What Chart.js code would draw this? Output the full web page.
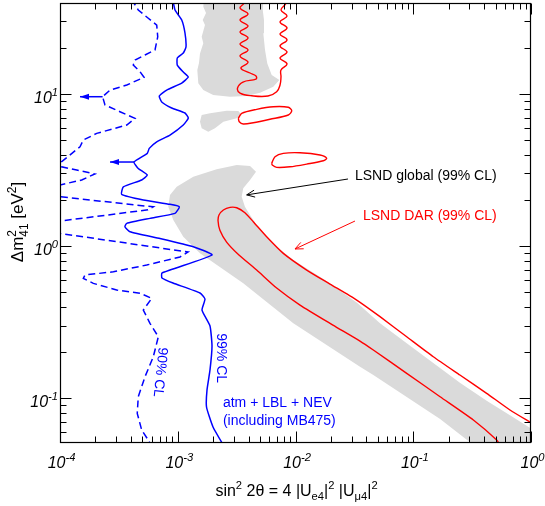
<!DOCTYPE html>
<html><head><meta charset="utf-8">
<script src="https://cdn.jsdelivr.net/npm/chart.js@4/dist/chart.umd.min.js"></script>
<style>html,body{margin:0;padding:0;background:#fff}#wrap{width:545px;height:506px}</style>
</head><body><div id="wrap"><canvas id="c" width="545" height="506"></canvas></div>
<script>
const FONT = '"Liberation Sans", Arial, Helvetica, sans-serif';

// ---- axis ranges and tick labels ----
const xRange = [1e-4, 1];
const yRange = [0.0506, 39.7];
const xTickValues = [1e-4, 1e-3, 1e-2, 1e-1, 1];
const xTickExps = ['-4', '-3', '-2', '-1', '0'];
const yTickValues = [0.1, 1, 10];
const yTickExps = ['-1', '0', '1'];

// ---- atm + LBL + NEV exclusion curves [sin^2 2theta, dm^2] ----
const atm99CL = [[9.06e-4,42],[9.48e-4,35.7],[1.081e-3,30.7],[1.152e-3,25.2],[1.175e-3,20.4],[1.114e-3,18.6],[9.91e-4,17.26],[9.91e-4,15.5],[1.114e-3,13.95],[1.229e-3,12.94],[1.081e-3,11.81],[8.06e-4,10.62],[6.97e-4,9.70],[7.31e-4,8.86],[8.88e-4,8.09],[1.152e-3,7.50],[1.229e-3,6.95],[1.114e-3,6.25],[8.59e-4,5.37],[6.63e-4,4.85],[5.73e-4,4.39],[5.51e-4,4.07],[4.25e-4,3.57],[4.62e-4,3.24],[5.51e-4,2.93],[4.94e-4,2.72],[3.45e-4,2.45],[3.34e-4,2.19],[5.10e-4,2.01],[8.59e-4,1.88],[1.031e-3,1.81],[9.48e-4,1.64],[5.81e-4,1.52],[3.69e-4,1.41],[3.56e-4,1.34],[3.93e-4,1.24],[7.07e-4,1.12],[1.355e-3,0.989],[1.954e-3,0.873],[7.35e-4,0.664],[7.35e-4,0.616],[9.11e-4,0.571],[1.545e-3,0.491],[1.703e-3,0.448],[1.607e-3,0.379],[1.879e-3,0.298],[1.954e-3,0.220],[1.879e-3,0.153],[1.772e-3,0.113],[1.755e-3,0.0873],[1.993e-3,0.0645],[2.52e-3,0.0469]];
const atm90CL = [[4.06e-4,42],[4.62e-4,35.7],[5.62e-4,31.5],[6.63e-4,28.4],[6.76e-4,23.8],[6.41e-4,19.5],[5.27e-4,18.06],[4.34e-4,16.74],[4.19e-4,15.5],[4.78e-4,14.02],[5.17e-4,12.88],[3.69e-4,11.46],[2.66e-4,10.62],[2.30e-4,9.60],[2.41e-4,8.47],[3.23e-4,7.65],[4.34e-4,6.92],[3.69e-4,6.25],[2.05e-4,5.51],[1.578e-4,4.98],[1.479e-4,4.50],[1.034e-4,3.59],[1.034e-4,3.32],[1.386e-4,3.16],[1.98e-4,2.98],[1.529e-4,2.72],[1.0e-4,2.52],[7.91e-5,2.30],[1.0e-4,2.11],[6.20e-4,1.81],[5.59e-4,1.73],[1.0e-4,1.46],[7.91e-5,1.33],[1.0e-4,1.21],[1.222e-3,0.913],[1.045e-3,0.847],[5.45e-4,0.750],[2.84e-4,0.677],[1.63e-4,0.645],[1.578e-4,0.613],[1.92e-4,0.568],[3.03e-4,0.514],[4.78e-4,0.489],[6.01e-4,0.453],[5.10e-4,0.379],[5.81e-4,0.310],[6.84e-4,0.253],[6.20e-4,0.187],[5.27e-4,0.138],[4.62e-4,0.102],[4.53e-4,0.0793],[4.94e-4,0.0616],[5.62e-4,0.0529],[6.04e-4,0.0476]];

// ---- LSND global 99% CL (gray regions) ----
const lsndGlobalTop = [[1.671e-3,43.5],[1.648e-3,37.5],[1.738e-3,34.1],[1.629e-3,30.7],[1.703e-3,28.4],[1.597e-3,23.8],[1.648e-3,21.6],[1.545e-3,18.5],[1.515e-3,16.0],[1.466e-3,14.4],[1.495e-3,11.76],[1.648e-3,10.62],[2.00e-3,9.85],[2.78e-3,9.60],[3.85e-3,9.70],[5.00e-3,10.2],[6.48e-3,11.17],[7.29e-3,12.37],[6.28e-3,13.34],[5.76e-3,15.9],[5.51e-3,19.5],[5.33e-3,25.1],[5.40e-3,30.7],[5.27e-3,35.7],[5.35e-3,43.5],[1.671e-3,43.5]];
const lsndGlobalBlob = [[1.597e-3,7.28],[1.879e-3,7.46],[2.60e-3,7.77],[3.27e-3,7.73],[3.49e-3,7.28],[3.17e-3,6.92],[2.44e-3,6.57],[2.07e-3,5.95],[1.817e-3,5.65],[1.597e-3,5.95],[1.545e-3,6.57],[1.597e-3,7.28]];
const lsndGlobalBand = [[8.59e-4,2.17],[9.80e-4,2.45],[1.355e-3,2.86],[2.14e-3,3.20],[3.17e-3,3.41],[4.11e-3,3.36],[4.62e-3,3.08],[4.11e-3,2.72],[3.60e-3,2.40],[3.49e-3,2.11],[3.72e-3,1.81],[4.11e-3,1.60],[5.00e-3,1.27],[6.92e-3,0.989],[9.58e-3,0.809],[1.780e-2,0.597],[3.31e-2,0.425],[5.22e-2,0.311],[8.80e-2,0.229],[0.148,0.170],[0.249,0.126],[0.420,0.0960],[0.663,0.0770],[1.0,0.0630],[1.315,0.0546],[1.315,0.0422],[0.369,0.0422],[0.309,0.0506],[0.169,0.0728],[8.80e-2,0.1015],[4.58e-2,0.1417],[3.53e-2,0.1607],[9.58e-3,0.310],[3.60e-3,0.568],[1.545e-3,0.895],[1.114e-3,1.151],[9.17e-4,1.483],[8.31e-4,1.81],[8.59e-4,2.17]];

// ---- LSND DAR 99% CL (red contours) ----
const lsndDarTop = [[3.66e-3,43.5],[3.66e-3,39.7],[3.38e-3,36.8],[3.95e-3,33.6],[3.38e-3,30.7],[3.95e-3,28.0],[3.38e-3,25.6],[3.95e-3,23.4],[3.38e-3,21.3],[3.95e-3,19.5],[3.38e-3,17.8],[3.95e-3,16.2],[3.44e-3,14.8],[4.11e-3,13.75],[4.62e-3,13.14],[4.62e-3,12.55],[3.58e-3,11.99],[3.22e-3,10.95],[3.38e-3,10.15],[4.25e-3,9.74],[5.84e-3,9.70],[6.92e-3,10.35],[7.39e-3,11.46],[7.53e-3,12.94],[7.53e-3,14.4],[8.47e-3,15.8],[7.39e-3,17.26],[8.47e-3,18.9],[7.39e-3,20.7],[8.47e-3,22.7],[7.39e-3,24.8],[8.47e-3,27.2],[7.39e-3,29.8],[8.47e-3,32.6],[7.53e-3,35.7],[8.31e-3,39.7],[7.99e-3,43.5]];
const lsndDarIsland1 = [[3.27e-3,6.92],[3.49e-3,7.46],[4.68e-3,7.93],[6.48e-3,8.25],[8.69e-3,8.18],[9.29e-3,7.77],[8.69e-3,7.28],[6.07e-3,6.82],[4.38e-3,6.47],[3.60e-3,6.35],[3.33e-3,6.57],[3.27e-3,6.92]];
const lsndDarIsland2 = [[6.28e-3,3.50],[6.70e-3,3.87],[7.88e-3,4.07],[1.092e-2,4.11],[1.615e-2,3.97],[1.84e-2,3.78],[1.722e-2,3.64],[1.245e-2,3.46],[8.98e-3,3.32],[6.92e-3,3.29],[6.35e-3,3.41],[6.28e-3,3.50]];
const lsndDarBand = [[1.315,0.0607],[1.0,0.0688],[0.663,0.0834],[0.420,0.1074],[0.249,0.1417],[0.148,0.187],[8.80e-2,0.253],[5.22e-2,0.343],[3.31e-2,0.441],[1.963e-2,0.562],[1.245e-2,0.695],[7.88e-3,0.895],[5.69e-3,1.151],[4.38e-3,1.445],[3.72e-3,1.656],[3.17e-3,1.786],[2.78e-3,1.797],[2.44e-3,1.725],[2.24e-3,1.60],[2.20e-3,1.46],[2.28e-3,1.27],[2.60e-3,1.062],[3.31e-3,0.873],[4.68e-3,0.695],[6.92e-3,0.529],[1.092e-2,0.409],[2.08e-2,0.302],[3.53e-2,0.237],[4.58e-2,0.207],[8.80e-2,0.1454],[0.169,0.102],[0.324,0.0717],[0.511,0.0529],[0.567,0.0469]];

// ---- annotation anchors (data coordinates) ----
const arrows = [
  {from:[4.25e-4,3.57], to:[2.66e-4,3.57], color:'#0000ff', filled:true, lw:1.5},
  {from:[2.30e-4,9.60], to:[1.479e-4,9.60], color:'#0000ff', filled:true, lw:1.5},
  {from:[2.79e-2,2.76], to:[3.85e-3,2.17], color:'#000000', filled:false, lw:1},
  {from:[3.20e-2,1.46], to:[9.90e-3,0.956], color:'#ff0000', filled:false, lw:1}
];
const labels = [
  {text:'LSND global (99% CL)', at:[3.20e-2,2.89], color:'#000000', align:'left', rot:0},
  {text:'LSND DAR (99% CL)', at:[3.74e-2,1.575], color:'#ff0000', align:'left', rot:0},
  {text:'99% CL', at:[2.33e-3,0.183], color:'#0000ff', align:'center', rot:90},
  {text:'90% CL', at:[7.07e-4,0.148], color:'#0000ff', align:'center', rot:96},
  {text:'atm + LBL + NEV', at:[2.42e-3,0.0927], color:'#0000ff', align:'left', rot:0},
  {text:'(including MB475)', at:[2.42e-3,0.0706], color:'#0000ff', align:'left', rot:0}
];

const pts = a => a.map(p => ({x:p[0], y:p[1]}));
const GRAY = '#dadada';
function area(d){ return {data:pts(d), showLine:true, fill:'shape', backgroundColor:GRAY, borderColor:'rgba(0,0,0,0)', borderWidth:0, pointRadius:0, order:10, clip:0}; }
function curve(d, color, w, dash, tension){ return {data:pts(d), showLine:true, fill:false, borderColor:color, borderWidth:w, borderDash:dash||[], pointRadius:0, tension:tension||0, order:1, clip:0}; }

const datasets = [
  area(lsndGlobalTop), area(lsndGlobalBlob), area(lsndGlobalBand),
  curve(lsndDarTop, '#ff0000', 1.4, null, 0.4),
  curve(lsndDarIsland1, '#ff0000', 1.4, null, 0.3),
  curve(lsndDarIsland2, '#ff0000', 1.4, null, 0.3),
  curve(lsndDarBand, '#ff0000', 1.4, null, 0.2),
  curve(atm99CL, '#0000ff', 1.5, null, 0.15),
  curve(atm90CL, '#0000ff', 1.5, [7,4], 0),
  ...arrows.filter(a=>a.filled).map(a => curve([a.from, a.to], a.color, a.lw))
];

function fontStr(size, italic){ return (italic?'italic ':'') + size + 'px ' + FONT; }
function layoutRich(ctx, parts, size, italic){
  let w = 0; const items = [];
  for (const p of parts){
    items.push({p, x:w});
    if (p.stack){ ctx.font = fontStr(size*0.7, italic); w += Math.max(ctx.measureText(p.sup).width, ctx.measureText(p.sub).width); }
    else if (p.sup || p.sub){ ctx.font = fontStr(size*0.7, italic); w += ctx.measureText(p.sup || p.sub).width; }
    else { ctx.font = fontStr(size, italic); w += ctx.measureText(p.t).width; }
  }
  return {w, items};
}
function drawRich(ctx, parts, x, y, size, italic, align){
  const L = layoutRich(ctx, parts, size, italic);
  const x0 = align === 'center' ? x - L.w/2 : align === 'right' ? x - L.w : x;
  ctx.textAlign = 'left'; ctx.textBaseline = 'alphabetic';
  for (const it of L.items){
    const p = it.p;
    if (p.stack){ ctx.font = fontStr(size*0.7, italic); ctx.fillText(p.sup, x0+it.x, y - size*0.42); ctx.fillText(p.sub, x0+it.x, y + size*0.3); }
    else if (p.sup){ ctx.font = fontStr(size*0.7, italic); ctx.fillText(p.sup, x0+it.x, y - size*0.44); }
    else if (p.sub){ ctx.font = fontStr(size*0.7, italic); ctx.fillText(p.sub, x0+it.x, y + size*0.28); }
    else { ctx.font = fontStr(size, italic); ctx.fillText(p.t, x0+it.x, y); }
  }
}

const decor = {
  id:'decor',
  afterDatasetsDraw(chart){
    const ctx = chart.ctx, xs = chart.scales.x, ys = chart.scales.y, a = chart.chartArea;
    ctx.save();
    for (const ar of arrows){
      const x0 = xs.getPixelForValue(ar.from[0]), y0 = ys.getPixelForValue(ar.from[1]);
      const x1 = xs.getPixelForValue(ar.to[0]), y1 = ys.getPixelForValue(ar.to[1]);
      const ang = Math.atan2(y1-y0, x1-x0);
      ctx.strokeStyle = ar.color; ctx.fillStyle = ar.color; ctx.lineWidth = ar.lw;
      if (!ar.filled){ ctx.beginPath(); ctx.moveTo(x0,y0); ctx.lineTo(x1,y1); ctx.stroke(); }
      const L = ar.filled ? 9 : 8, H = ar.filled ? 3 : 3.5;
      const bx = x1 - L*Math.cos(ang), by = y1 - L*Math.sin(ang);
      const px = -Math.sin(ang)*H, py = Math.cos(ang)*H;
      ctx.beginPath();
      ctx.moveTo(bx+px, by+py); ctx.lineTo(x1, y1); ctx.lineTo(bx-px, by-py);
      if (ar.filled){ ctx.closePath(); ctx.fill(); } else ctx.stroke();
    }
    for (const lb of labels){
      const x = xs.getPixelForValue(lb.at[0]), y = ys.getPixelForValue(lb.at[1]);
      ctx.save(); ctx.translate(x, y); ctx.rotate(lb.rot*Math.PI/180);
      ctx.fillStyle = lb.color; ctx.font = fontStr(14, false);
      ctx.textAlign = lb.align; ctx.textBaseline = 'middle';
      ctx.fillText(lb.text, 0, 0);
      ctx.restore();
    }
    ctx.strokeStyle = '#000'; ctx.lineWidth = 1.2;
    const L = Math.round(a.left)+0.5, R = Math.round(a.right)-0.5, T = Math.round(a.top)+0.5, B = Math.round(a.bottom)-0.5;
    ctx.strokeRect(L, T, R-L, B-T);
    ctx.lineWidth = 1;
    ctx.beginPath();
    for (let e = -5; e <= 1; e++) for (let m = 1; m <= 9; m++){
      const v = m * Math.pow(10, e);
      const len = m === 1 ? 11 : 6;
      if (v >= xRange[0]*0.999 && v <= xRange[1]*1.001){
        const px = Math.round(xs.getPixelForValue(v)) + 0.5;
        ctx.moveTo(px, B); ctx.lineTo(px, B-len);
        ctx.moveTo(px, T); ctx.lineTo(px, T+len);
      }
      if (v >= yRange[0] && v <= yRange[1]){
        const py = Math.round(ys.getPixelForValue(v)) + 0.5;
        ctx.moveTo(L, py); ctx.lineTo(L+len, py);
        ctx.moveTo(R, py); ctx.lineTo(R-len, py);
      }
    }
    ctx.stroke();
    ctx.fillStyle = '#000';
    xTickValues.forEach((v,i) => {
      const px = xs.getPixelForValue(v);
      drawRich(ctx, [{t:'10'},{sup:xTickExps[i]}], px+1.5, a.bottom+25, 16, true, 'center');
    });
    yTickValues.forEach((v,i) => {
      const py = ys.getPixelForValue(v);
      drawRich(ctx, [{t:'10'},{sup:yTickExps[i]}], a.left-2, py+9, 16, true, 'right');
    });
    drawRich(ctx, [{t:'sin'},{sup:'2'},{t:' 2θ = 4 |U'},{sub:'e4'},{t:'|'},{sup:'2'},{t:' |U'},{sub:'μ4'},{t:'|'},{sup:'2'}],
      (a.left+a.right)/2+1, 496, 16, false, 'center');
    ctx.save(); ctx.translate(23, (a.top+a.bottom)/2 - 1); ctx.rotate(-Math.PI/2);
    drawRich(ctx, [{t:'Δm'},{stack:true, sup:'2', sub:'41'},{t:' [eV'},{sup:'2'},{t:']'}], 0, 0, 17, false, 'center');
    ctx.restore();
    ctx.restore();
  }
};

Chart.defaults.font.family = FONT;
new Chart(document.getElementById('c'), {
  type:'scatter',
  data:{datasets},
  options:{
    responsive:false, animation:false, devicePixelRatio:1,
    layout:{padding:{top:3, right:14, left:0, bottom:0}},
    plugins:{legend:{display:false}, tooltip:{enabled:false}},
    elements:{point:{radius:0}},
    scales:{
      x:{type:'logarithmic', min:xRange[0], max:xRange[1], ticks:{display:false}, grid:{display:false}, border:{display:false}, afterFit(s){ s.height = 63; }},
      y:{type:'logarithmic', min:yRange[0], max:yRange[1], ticks:{display:false}, grid:{display:false}, border:{display:false}, afterFit(s){ s.width = 60; }}
    }
  },
  plugins:[decor]
});
</script>
</body></html>
